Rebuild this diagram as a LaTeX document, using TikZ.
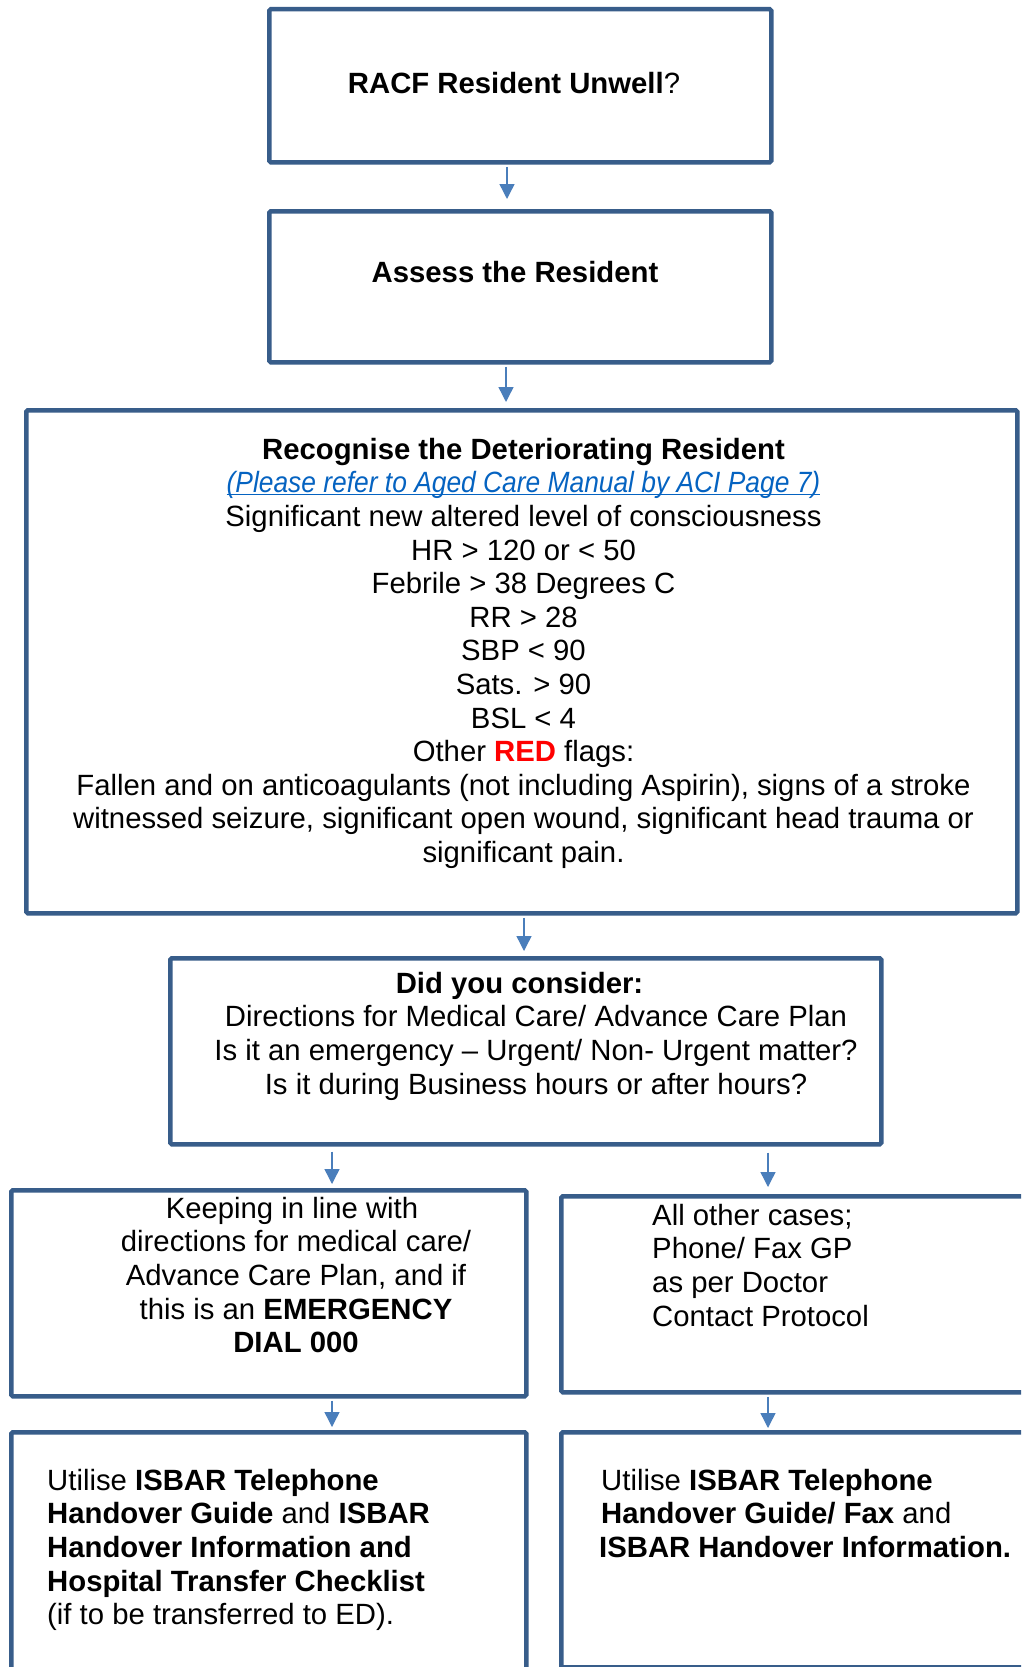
\documentclass[tikz,border=0pt]{standalone}
\usepackage{fontspec}
\setmainfont{Liberation Sans}
\usetikzlibrary{arrows.meta}
\definecolor{boxblue}{HTML}{385D8A}
\definecolor{arrblue}{HTML}{4A7EBB}
\definecolor{linkblue}{HTML}{0563C1}
\definecolor{flagred}{HTML}{FF0000}
\newcommand\flowfs{\fontsize{29.3}{33.6}\selectfont}
\begin{document}
\begin{tikzpicture}[x=1pt,y=-1pt,
  frame/.style={draw=boxblue,line width=4.5pt,rounded corners=1.5pt,inner sep=0pt,anchor=north west},
  arr/.style={draw=arrblue,line width=1.4pt,-{Triangle[width=15pt,length=15pt]},shorten <=2.25pt},
  txt/.style={inner sep=0pt,anchor=north,font=\flowfs,align=center},
  ltxt/.style={inner sep=0pt,anchor=north west,font=\flowfs,align=left}]
\clip (0,0) rectangle (1021,1667);
\fill[white] (0,0) rectangle (1021,1667);

% boxes
\node[frame,minimum width=502pt,minimum height=153pt] (b1) at (267,7) {};
\node[frame,minimum width=502pt,minimum height=151pt] (b2) at (267,209) {};
\node[frame,minimum width=991pt,minimum height=503pt] (b3) at (24,408) {};
\node[frame,minimum width=711pt,minimum height=186pt] (b4) at (168,956) {};
\node[frame,minimum width=515pt,minimum height=206pt] (b5) at (9,1188) {};
\node[frame,minimum width=500pt,minimum height=196pt] (b6) at (559,1194) {};
\node[frame,minimum width=515pt,minimum height=300pt] (b7) at (9,1430) {};
\node[frame,minimum width=500pt,minimum height=235pt] (b8) at (559,1430) {};

% texts
\node[txt] (t1) at (514,70) {\strut\textbf{RACF Resident Unwell}?};
\node[txt] (t2) at (515,258.5) {\strut\textbf{Assess the Resident}};
\node[txt] (t3) at (523.5,435.5) {\strut\textbf{Recognise the Deteriorating Resident}\\
  \textcolor{linkblue}{\underline{\smash{\itshape\addfontfeatures{FakeStretch=0.9}(Please refer to Aged Care Manual by ACI Page 7)}}}\\
  Significant new altered level of consciousness\\
  HR > 120 or < 50\\
  Febrile > 38 Degrees C\\
  RR > 28\\
  SBP < 90\\
  Sats. > 90\\
  BSL < 4\\
  Other \textcolor{flagred}{\textbf{RED}} flags:\\
  Fallen and on anticoagulants (not including Aspirin), signs of a stroke\\
  witnessed seizure, significant open wound, significant head trauma or\\
  significant pain.};
\node[txt] (t4) at (536,969.5) {\strut\textbf{Did you consider:}\hspace*{33pt}\\
  Directions for Medical Care/ Advance Care Plan\\
  Is it an emergency – Urgent/ Non- Urgent matter?\\
  Is it during Business hours or after hours?};
\node[txt] (t5) at (296,1194.5) {\strut Keeping in line with\hspace*{8pt}\\
  directions for medical care/\\
  Advance Care Plan, and if\\
  this is an \textbf{EMERGENCY}\\
  \textbf{DIAL 000}};
\node[ltxt] (t6) at (652,1201.5) {\strut All other cases;\\
  Phone/ Fax GP\\
  as per Doctor\\
  Contact Protocol};
\node[ltxt] (t7) at (47,1466.5) {\strut Utilise \textbf{ISBAR Telephone}\\
  \textbf{Handover Guide} and \textbf{ISBAR}\\
  \textbf{Handover Information and}\\
  \textbf{Hospital Transfer Checklist}\\
  (if to be transferred to ED).};
\node[ltxt] (t8) at (601,1466.5) {\strut Utilise \textbf{ISBAR Telephone}\\
  \textbf{Handover Guide/ Fax} and\\
  \hspace*{-2pt}\textbf{ISBAR Handover Information.}};

% arrow columns
\coordinate (x1) at (507,0);
\coordinate (x2) at (506,0);
\coordinate (x3) at (524,0);
\coordinate (xl) at (332,0);
\coordinate (xr) at (768,0);

\draw[arr,shorten >=10pt] (b1.south -| x1) -- (b2.north -| x1);
\draw[arr,shorten >=6pt] (b2.south -| x2) -- (b3.north -| x2);
\draw[arr,shorten >=5pt] (b3.south -| x3) -- (b4.north -| x3);
\draw[arr,shorten <=5pt,shorten >=4pt] (b4.south -| xl) -- (b5.north -| xl);
\draw[arr,shorten <=6pt,shorten >=7pt] (b4.south -| xr) -- (b6.north -| xr);
\draw[arr,shorten >=3pt] (b5.south -| xl) -- (b7.north -| xl);
\draw[arr,shorten >=2pt] (b6.south -| xr) -- (b8.north -| xr);
\end{tikzpicture}
\end{document}
